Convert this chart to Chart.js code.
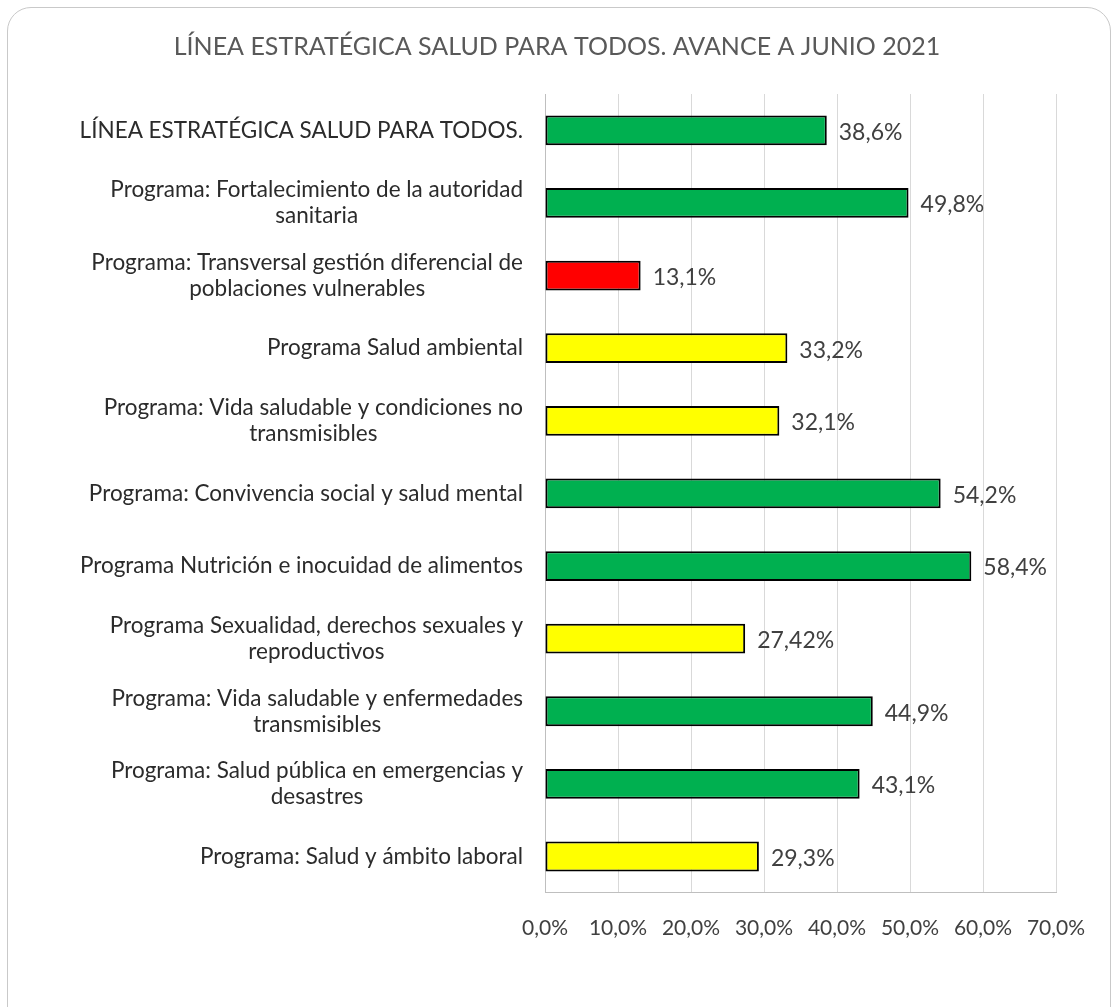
<!DOCTYPE html>
<html>
<head>
<meta charset="utf-8">
<script src="https://cdn.jsdelivr.net/npm/chart.js@4.4.1/dist/chart.umd.min.js"></script>
<style>
  html, body { margin: 0; padding: 0; background: #fff; overflow: hidden; }
  #wrap { position: relative; width: 1114px; height: 1007px; }
  #frame { position: absolute; left: 7px; top: 7px; width: 1104px; height: 1030px;
           border: 1.5px solid #c9c9c9; border-radius: 24px; box-sizing: border-box; }
  canvas { position: absolute; left: 0; top: 0; }
</style>
</head>
<body>
<div id="wrap">
  <div id="frame"></div>
  <canvas id="avance" width="1114" height="1007"></canvas>
</div>
<script>
const titulo = 'LÍNEA ESTRATÉGICA SALUD PARA TODOS. AVANCE A JUNIO 2021';
const categories = [
  'LÍNEA ESTRATÉGICA SALUD PARA TODOS.',
  ['Programa: Fortalecimiento de la autoridad', 'sanitaria'],
  ['Programa: Transversal gestión diferencial de', 'poblaciones vulnerables'],
  'Programa Salud ambiental',
  ['Programa: Vida saludable y condiciones no', 'transmisibles'],
  'Programa: Convivencia social y salud mental',
  'Programa Nutrición e inocuidad de alimentos',
  ['Programa Sexualidad, derechos sexuales y', 'reproductivos'],
  ['Programa: Vida saludable y enfermedades', 'transmisibles'],
  ['Programa: Salud pública en emergencias y', 'desastres'],
  'Programa: Salud y ámbito laboral'
];
const avance = [38.6, 49.8, 13.1, 33.2, 32.1, 54.2, 58.4, 27.42, 44.9, 43.1, 29.3];
const valueLabels = ['38,6%', '49,8%', '13,1%', '33,2%', '32,1%', '54,2%', '58,4%', '27,42%', '44,9%', '43,1%', '29,3%'];
const semaforo = ['verde', 'verde', 'rojo', 'amarillo', 'amarillo', 'verde', 'verde', 'amarillo', 'verde', 'verde', 'amarillo'];

const colores = { verde: '#00B050', rojo: '#FF0000', amarillo: '#FFFF00' };
const FONT = 'Lato, Carlito, Calibri, sans-serif';

const sideLabels = {
  id: 'sideLabels',
  afterDraw(chart) {
    const ctx = chart.ctx;
    const yScale = chart.scales.y;
    const area = chart.chartArea;
    ctx.save();
    ctx.textBaseline = 'middle';

    // titulo centrado en todo el lienzo
    ctx.textAlign = 'center';
    ctx.font = '25px ' + FONT;
    ctx.fillStyle = '#595959';
    ctx.fillText(titulo, chart.width / 2, 47);

    ctx.font = '22.5px ' + FONT;
    ctx.fillStyle = '#2b2b2b';
    categories.forEach((lab, i) => {
      const lines = Array.isArray(lab) ? lab : [lab];
      const w = Math.max(...lines.map(l => ctx.measureText(l).width));
      const cx = area.left - 22 - w / 2;
      const cy = yScale.getPixelForValue(i);
      lines.forEach((l, k) => ctx.fillText(l, cx, cy + (k - (lines.length - 1) / 2) * 26));
    });

    // etiquetas de valor
    ctx.textAlign = 'left';
    ctx.font = '23px ' + FONT;
    ctx.fillStyle = '#404040';
    const meta = chart.getDatasetMeta(0);
    meta.data.forEach((bar, i) => {
      ctx.fillText(valueLabels[i], bar.x + 12, bar.y + 2);
    });
    ctx.restore();
  }
};

let ctx = document.getElementById('avance').getContext('2d');
let chart = new Chart(ctx, {
  type: 'bar',
  data: {
    labels: categories,
    datasets: [{
      data: avance,
      backgroundColor: semaforo.map(s => colores[s]),
      borderColor: '#000000',
      borderWidth: 2,
      borderSkipped: false,
      categoryPercentage: 1,
      barPercentage: 0.41
    }]
  },
  plugins: [sideLabels],
  options: {
    responsive: false,
    animation: false,
    indexAxis: 'y',
    layout: {
      padding: { left: 545, right: 58, top: 94, bottom: 43 }
    },
    plugins: {
      legend: { display: false },
      tooltip: { enabled: false },
      title: { display: false }
    },
    scales: {
      x: {
        min: 0,
        max: 70,
        ticks: {
          stepSize: 10,
          color: '#404040',
          font: { family: FONT, size: 21 },
          padding: 23,
          callback: v => v.toFixed(1).replace('.', ',') + '%'
        },
        grid: { color: '#d9d9d9', drawTicks: false },
        border: { color: '#bfbfbf' }
      },
      y: {
        ticks: { display: false },
        grid: { display: false, drawTicks: false },
        border: { color: '#bfbfbf' }
      }
    }
  }
});
</script>
</body>
</html>
